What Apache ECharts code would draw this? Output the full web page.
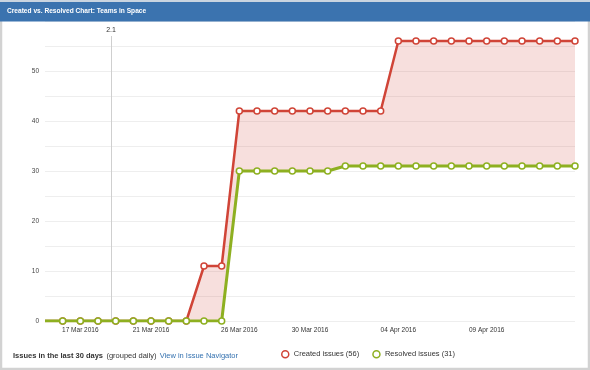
<!DOCTYPE html>
<html><head><meta charset="utf-8">
<script src="https://cdn.jsdelivr.net/npm/echarts@6/dist/echarts.min.js"></script>
<style>html,body{margin:0;padding:0;background:#fff}#c{width:590px;height:370px}</style>
</head><body><div id="c"></div>
<script>
const dates = ['2016-03-15','2016-03-16','2016-03-17','2016-03-18','2016-03-19','2016-03-20','2016-03-21','2016-03-22','2016-03-23','2016-03-24','2016-03-25','2016-03-26','2016-03-27','2016-03-28','2016-03-29','2016-03-30','2016-03-31','2016-04-01','2016-04-02','2016-04-03','2016-04-04','2016-04-05','2016-04-06','2016-04-07','2016-04-08','2016-04-09','2016-04-10','2016-04-11','2016-04-12','2016-04-13','2016-04-14'];
const created  = [0,0,0,0,0,0,0,0,0,11,11,42,42,42,42,42,42,42,42,42,56,56,56,56,56,56,56,56,56,56,56];
const resolved = [0,0,0,0,0,0,0,0,0,0,0,30,30,30,30,30,30,31,31,31,31,31,31,31,31,31,31,31,31,31,31];
const tickDates = ['2016-03-17','2016-03-21','2016-03-26','2016-03-30','2016-04-04','2016-04-09'];
const versionDate = '2016-03-18T17:45:00Z';
const versionLabel = '2.1';
const versionTop = 57;
const chartTitle = 'Created vs. Resolved Chart: Teams in Space';
const createdName = 'Created issues (56)';
const resolvedName = 'Resolved issues (31)';

const FONT = '"Liberation Sans", Arial, sans-serif';
const RED = '#d04437', GREEN = '#8eb021';
const ts = dates.map(d => Date.parse(d));
const pair = arr => arr.map((v, i) => [ts[i], v]);
const gap = created.map((v, i) => v - resolved[i]);

const chart = echarts.init(document.getElementById('c'), null, {renderer: 'canvas'});
chart.setOption({
  useUTC: true,
  animation: false,
  backgroundColor: '#fff',
  grid: {left: 45, right: 15, top: 21, bottom: 49},
  xAxis: {
    type: 'time', min: ts[0], max: ts[ts.length - 1],
    axisLine: {show: false}, axisTick: {show: false}, splitLine: {show: false},
    axisLabel: {
      customValues: tickDates.map(d => Date.parse(d)),
      formatter: '{dd} {MMM} {yyyy}',
      fontSize: 6.5, color: '#333', fontFamily: FONT, margin: 6, hideOverlap: false
    }
  },
  yAxis: {
    type: 'value', min: 0, max: 60, interval: 5,
    axisLine: {show: false}, axisTick: {show: false},
    splitLine: {lineStyle: {color: '#eeeeee', width: 1}},
    axisLabel: {
      formatter: v => (v % 10 === 0 && v < 60) ? String(v) : '',
      fontSize: 6.5, color: '#444', fontFamily: FONT, margin: 6
    }
  },
  legend: {
    left: 281, top: 350, padding: 0, icon: 'circle', itemWidth: 7, itemHeight: 7, itemGap: 13,
    textStyle: {fontSize: 7.5, color: '#333', fontFamily: FONT},
    data: [
      {name: createdName, itemStyle: {color: '#fff', borderColor: RED, borderWidth: 1.5}},
      {name: resolvedName, itemStyle: {color: '#fff', borderColor: GREEN, borderWidth: 1.5}}
    ]
  },
  graphic: [
    {type: 'rect', z: 100, shape: {x: 1, y: 1, width: 588, height: 368}, style: {fill: 'none', stroke: '#d2d2d2', lineWidth: 2.5}},
    {type: 'rect', z: 101, shape: {x: 0, y: 0, width: 590, height: 21.5}, style: {fill: '#3b73af'}},
    {type: 'rect', z: 101, shape: {x: 0, y: 0, width: 590, height: 2}, style: {fill: '#c9d4e0'}},
    {type: 'text', z: 102, left: 7, top: 8, style: {text: chartTitle, fill: '#fff', font: 'bold 6.6px ' + FONT}},
    {type: 'text', z: 102, left: 13, top: 350, style: {
      text: '{b|Issues in the last 30 days} {n|(grouped daily)} {l|View in Issue Navigator}',
      rich: {
        b: {fontWeight: 'bold', fontSize: 7.5, fill: '#333', fontFamily: FONT},
        n: {fontSize: 7.5, fill: '#333', fontFamily: FONT},
        l: {fontSize: 7.5, fill: '#3572b0', fontFamily: FONT}
      }
    }}
  ],
  series: [
    {name: 'base', type: 'line', stack: 'fill', data: pair(resolved), symbol: 'none',
     lineStyle: {width: 0}, silent: true, z: 1},
    {name: 'gap', type: 'line', stack: 'fill', data: pair(gap), symbol: 'none',
     lineStyle: {width: 0}, areaStyle: {color: 'rgba(208,68,55,0.17)', opacity: 1}, silent: true, z: 1},
    {name: createdName, type: 'line', data: pair(created), z: 3,
     symbol: 'circle', symbolSize: (v, p) => p.dataIndex === 0 ? 0 : 6, showAllSymbol: true,
     lineStyle: {color: RED, width: 2.5}, itemStyle: {color: '#fff', borderColor: RED, borderWidth: 1.5},
     markLine: {
       silent: true, symbol: 'none', z: 0,
       lineStyle: {color: '#cfcfcf', width: 1, type: 'solid'},
       label: {show: true, position: 'end', formatter: versionLabel, fontSize: 7, color: '#333', fontFamily: FONT, distance: 2},
       data: [[{coord: [Date.parse(versionDate), 0]}, {coord: [Date.parse(versionDate), versionTop]}]]
     }},
    {name: resolvedName, type: 'line', data: pair(resolved), z: 4,
     symbol: 'circle', symbolSize: (v, p) => p.dataIndex === 0 ? 0 : 6, showAllSymbol: true,
     lineStyle: {color: GREEN, width: 3}, itemStyle: {color: '#fff', borderColor: GREEN, borderWidth: 1.5}}
  ]
});
</script></body></html>
